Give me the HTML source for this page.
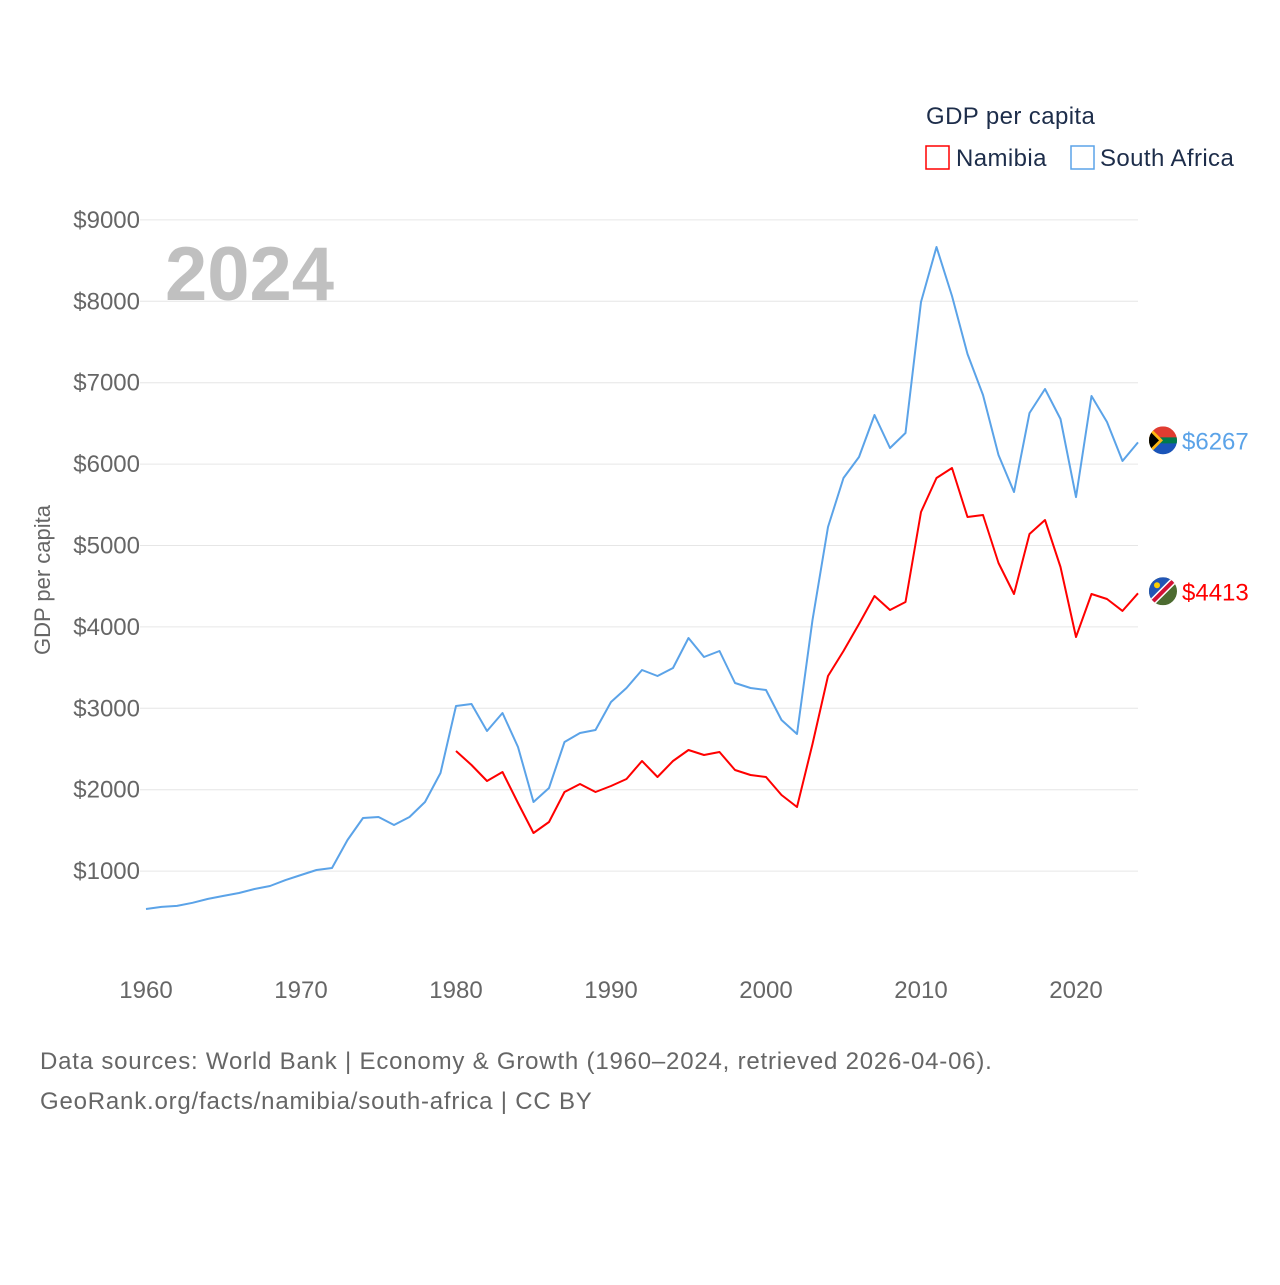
<!DOCTYPE html>
<html><head><meta charset="utf-8"><style>
body{margin:0;background:#fff;font-family:"Liberation Sans",sans-serif;}
</style></head><body>
<svg width="1280" height="1280" xmlns="http://www.w3.org/2000/svg" font-family="Liberation Sans, sans-serif">
<defs>
<clipPath id="c1"><circle cx="0" cy="0" r="14"/></clipPath>
</defs>
<g id="grid"></g>
<g id="yt"></g>
<g id="xt"></g>
<text x="165" y="300" font-size="76" font-weight="bold" fill="#c0c0c0">2024</text>
<text transform="translate(50,580) rotate(-90)" text-anchor="middle" font-size="22" fill="#666">GDP per capita</text>
<text x="926" y="124" font-size="24" fill="#1d2d4a" letter-spacing="0.4">GDP per capita</text>
<g><rect x="926" y="146" width="23" height="23" fill="none" stroke="#ff0000" stroke-width="1.5"/><text x="956" y="166" font-size="24" fill="#1d2d4a" letter-spacing="0.4">Namibia</text></g>
<g><rect x="1071" y="146" width="23" height="23" fill="none" stroke="#5ba3e8" stroke-width="1.5"/><text x="1100" y="166" font-size="24" fill="#1d2d4a" letter-spacing="0.4">South Africa</text></g>
<g id="series"></g>
<text x="40" y="1069" font-size="24" fill="#666" letter-spacing="0.8">Data sources: World Bank | Economy &amp; Growth (1960–2024, retrieved 2026-04-06).</text>
<text x="40" y="1109" font-size="24" fill="#666" letter-spacing="0.8">GeoRank.org/facts/namibia/south-africa | CC BY</text>
</svg>
<script>
const saYears=[];for(let y=1960;y<=2024;y++)saYears.push(y);
const saValues=[534,560,572,610,658,695,731,780,817,890,952,1013,1038,1382,1652,1665,1566,1665,1849,2205,3028,3053,2721,2942,2525,1849,2021,2586,2697,2733,3077,3249,3470,3397,3495,3864,3630,3704,3311,3249,3225,2856,2684,4085,5227,5829,6087,6603,6198,6382,7991,8667,8065,7353,6849,6112,5657,6628,6922,6554,5595,6837,6517,6038,6267];
const naYears=[];for(let y=1980;y<=2024;y++)naYears.push(y);
const naValues=[2475,2303,2107,2217,1837,1468,1603,1972,2070,1972,2045,2131,2352,2156,2352,2488,2426,2463,2242,2181,2156,1935,1788,2561,3397,3704,4036,4380,4208,4306,5411,5829,5952,5350,5375,4785,4404,5141,5313,4736,3876,4404,4343,4196,4413];
const yTicks=[1000,2000,3000,4000,5000,6000,7000,8000,9000];
const xTicks=[1960,1970,1980,1990,2000,2010,2020];
const NS="http://www.w3.org/2000/svg";
const X=v=>146+(v-1960)*15.5;
const Y=v=>952.5-v*0.0814;
function mk(t,a,p){const e=document.createElementNS(NS,t);for(const k in a)e.setAttribute(k,a[k]);p.appendChild(e);return e;}
const grid=document.getElementById('grid'),yt=document.getElementById('yt'),xt=document.getElementById('xt'),ser=document.getElementById('series');
yTicks.forEach(v=>{
 const l=mk('line',{x1:140,x2:1138,y1:Y(v),y2:Y(v),stroke:'#e6e6e6','stroke-width':1},grid);
 
 
 const t=mk('text',{x:140,y:Y(v)+8,'text-anchor':'end','font-size':24,fill:'#666'},yt);t.textContent='$'+v;
 
 
});
xTicks.forEach(v=>{
 const t=mk('text',{x:X(v),y:998,'text-anchor':'middle','font-size':24,fill:'#666'},xt);t.textContent=v;
 
 
});
function flag(g,name){
 if(name==='south-africa'){
  mk('rect',{x:-14,y:-14,width:28,height:14,fill:'#e03c31'},g);
  mk('rect',{x:-14,y:0,width:28,height:14,fill:'#1a54b8'},g);
  mk('rect',{x:-14,y:-3,width:28,height:6,fill:'#007a4d'},g);
  mk('polygon',{points:'-14,-14 0,0 -14,14',fill:'#ffb612'},g);
  mk('polygon',{points:'-14,-10 -4,0 -14,10',fill:'#000'},g);
 }else{
  mk('rect',{x:-14,y:-14,width:28,height:28,fill:'#4c6b30'},g);
  mk('polygon',{points:'-14,-14 14,-14 -14,14',fill:'#2255b5'},g);
  mk('line',{x1:-14,y1:14,x2:14,y2:-14,stroke:'#fff','stroke-width':7},g);
  mk('line',{x1:-14,y1:14,x2:14,y2:-14,stroke:'#d21034','stroke-width':4},g);
  mk('circle',{cx:-6,cy:-6,r:3,fill:'#ffce00'},g);
 }
}
function line(years,vals,color,name){
 const d=years.map((y,i)=>(i?'L':'M')+X(y).toFixed(1)+','+Y(vals[i]).toFixed(1)).join('');
 const p=mk('path',{d:d,fill:'none',stroke:color,'stroke-width':2,'stroke-linejoin':'round'},ser);
 
 
 const last=vals[vals.length-1],ly=Y(last)-2;
 const g=mk('g',{transform:'translate(1163,'+ly+')','clip-path':'url(#c1)'},ser);
 
 
 flag(g,name);
 const t=mk('text',{x:1182,y:ly+9,'font-size':24,fill:color},ser);t.textContent='$'+last;
 
 
}
line(saYears,saValues,'#5ba3e8','south-africa');
line(naYears,naValues,'#ff0000','namibia');
</script>
</body></html>
